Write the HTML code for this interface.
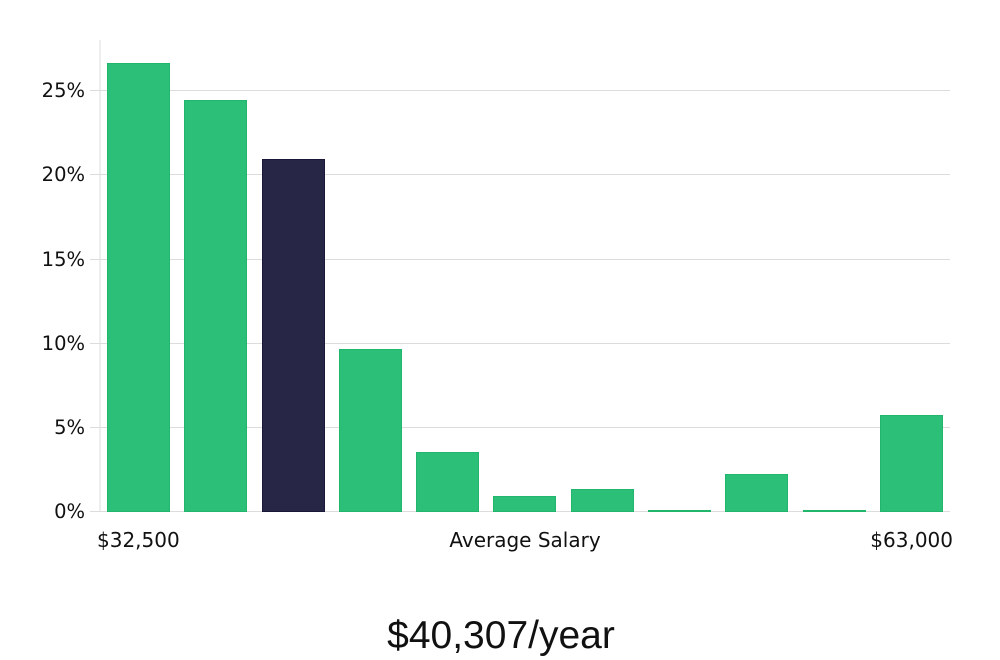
<!DOCTYPE html>
<html><head><style>body{margin:0;background:#fff}svg{display:block}</style></head><body>
<svg width="1000" height="660" xmlns="http://www.w3.org/2000/svg" font-family="DejaVu Sans, Liberation Sans, sans-serif">
<g stroke="#dcdcdc" stroke-width="1">
<line x1="100" y1="40" x2="100" y2="512"/>
<line x1="90" y1="511.5" x2="950" y2="511.5"/>
<line x1="90" y1="427.5" x2="950" y2="427.5"/>
<line x1="90" y1="343.5" x2="950" y2="343.5"/>
<line x1="90" y1="259.5" x2="950" y2="259.5"/>
<line x1="90" y1="174.5" x2="950" y2="174.5"/>
<line x1="90" y1="90.5" x2="950" y2="90.5"/>
</g>
<g font-size="19.5" fill="#111" text-anchor="end">
<text x="85" y="518">0%</text>
<text x="85" y="434">5%</text>
<text x="85" y="350">10%</text>
<text x="85" y="266">15%</text>
<text x="85" y="181">20%</text>
<text x="85" y="97">25%</text>
</g>
<g fill="#2bbf77" stroke="#22b56c" stroke-width="1">
<rect x="107.5" y="63.5" width="62" height="448"/>
<rect x="184.5" y="100.5" width="62" height="411"/>
<rect x="339.5" y="349.5" width="62" height="162"/>
<rect x="416.5" y="452.5" width="62" height="59"/>
<rect x="493.5" y="496.5" width="62" height="15"/>
<rect x="571.5" y="489.5" width="62" height="22"/>
<rect x="648.5" y="510.5" width="62" height="1"/>
<rect x="725.5" y="474.5" width="62" height="37"/>
<rect x="803.5" y="510.5" width="62" height="1"/>
<rect x="880.5" y="415.5" width="62" height="96"/>
</g>
<rect x="262.5" y="159.5" width="62" height="352" fill="#282646" stroke="#1a1838"/>
<g font-size="20" fill="#111">
<text x="97" y="547">$32,500</text>
<text x="525" y="547" text-anchor="middle">Average Salary</text>
<text x="953" y="547" text-anchor="end">$63,000</text>
</g>
<text x="501" y="648" font-size="39" fill="#111" text-anchor="middle" font-family="Liberation Sans, sans-serif">$40,307/year</text>
</svg>
</body></html>
